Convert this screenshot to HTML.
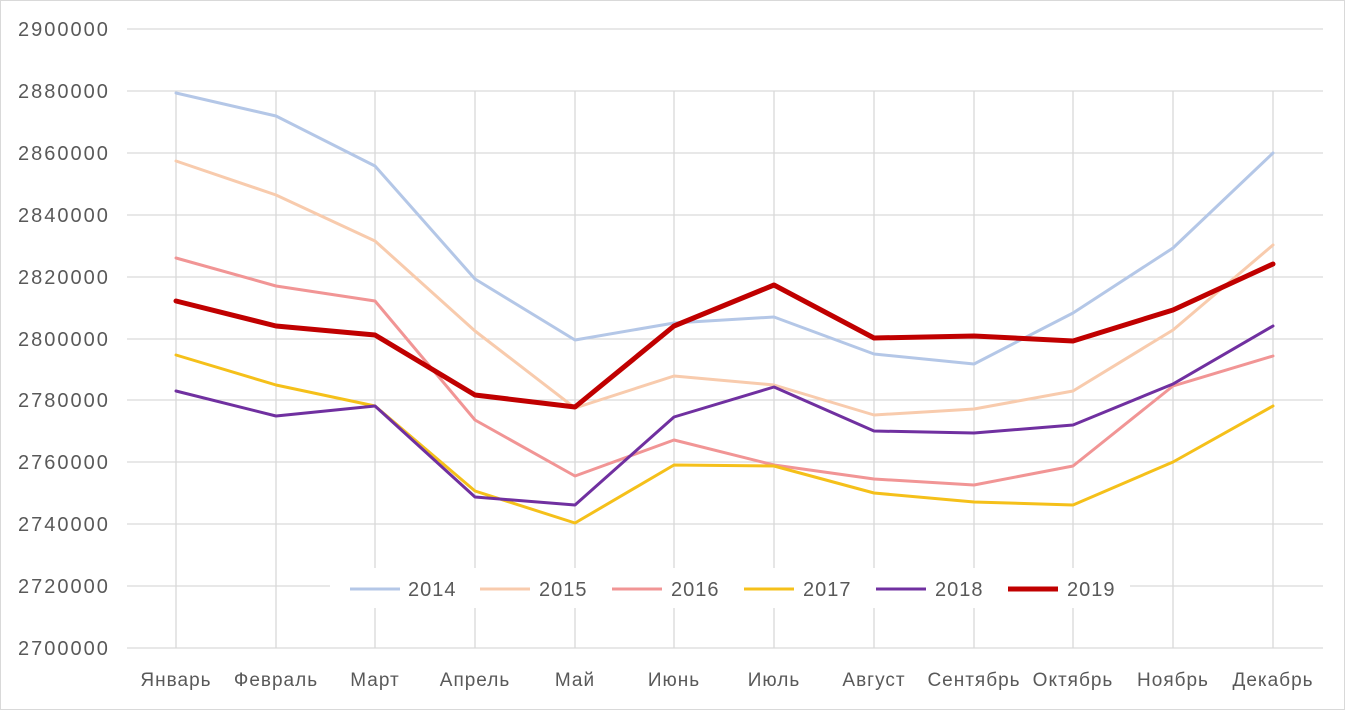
<!DOCTYPE html>
<html><head><meta charset="utf-8"><style>
html,body{margin:0;padding:0;background:#fff;}
svg{display:block;font-family:"Liberation Sans","DejaVu Sans",sans-serif;}
</style></head><body>
<svg width="1345" height="710" viewBox="0 0 1345 710" xmlns="http://www.w3.org/2000/svg">
<rect x="0.5" y="0.5" width="1344" height="709" fill="#fff" stroke="#d9d9d9"/>
<g stroke="#d9d9d9" stroke-width="1.3">
<line x1="127" x2="1323" y1="29" y2="29"/>
<line x1="127" x2="1323" y1="91" y2="91"/>
<line x1="127" x2="1323" y1="153" y2="153"/>
<line x1="127" x2="1323" y1="215" y2="215"/>
<line x1="127" x2="1323" y1="277" y2="277"/>
<line x1="127" x2="1323" y1="339" y2="339"/>
<line x1="127" x2="1323" y1="400" y2="400"/>
<line x1="127" x2="1323" y1="462" y2="462"/>
<line x1="127" x2="1323" y1="524" y2="524"/>
<line x1="127" x2="1323" y1="586" y2="586"/>
<line x1="127" x2="1323" y1="648" y2="648"/>
<line x1="176" x2="176" y1="91" y2="648"/>
<line x1="276" x2="276" y1="91" y2="648"/>
<line x1="375" x2="375" y1="91" y2="648"/>
<line x1="475" x2="475" y1="91" y2="648"/>
<line x1="575" x2="575" y1="91" y2="648"/>
<line x1="674" x2="674" y1="91" y2="648"/>
<line x1="774" x2="774" y1="91" y2="648"/>
<line x1="874" x2="874" y1="91" y2="648"/>
<line x1="974" x2="974" y1="91" y2="648"/>
<line x1="1073" x2="1073" y1="91" y2="648"/>
<line x1="1173" x2="1173" y1="91" y2="648"/>
<line x1="1273" x2="1273" y1="91" y2="648"/>
</g>
<g font-size="20" fill="#595959" letter-spacing="2">
<text x="18" y="36">2900000</text><text x="18" y="98">2880000</text><text x="18" y="160">2860000</text>
<text x="18" y="222">2840000</text><text x="18" y="284">2820000</text><text x="18" y="346">2800000</text>
<text x="18" y="407">2780000</text><text x="18" y="469">2760000</text><text x="18" y="531">2740000</text>
<text x="18" y="593">2720000</text><text x="18" y="655">2700000</text>
</g>
<g font-size="19" fill="#595959" text-anchor="middle" letter-spacing="1">
<text x="176" y="686">Январь</text><text x="276" y="686">Февраль</text><text x="375" y="686">Март</text>
<text x="475" y="686">Апрель</text><text x="575" y="686">Май</text><text x="674" y="686">Июнь</text>
<text x="774" y="686">Июль</text><text x="874" y="686">Август</text><text x="974" y="686">Сентябрь</text>
<text x="1073" y="686">Октябрь</text><text x="1173" y="686">Ноябрь</text><text x="1273" y="686">Декабрь</text>
</g>
<g fill="none" stroke-linejoin="round" stroke-linecap="round">
<polyline stroke="#b4c7e7" stroke-width="3" points="176,93 276,116 375,166 475,279 575,340 674,323 774,317 874,354 974,364 1073,313 1173,248 1273,153"/>
<polyline stroke="#f8cbad" stroke-width="3" points="176,161 276,195 375,241 475,331 575,408 674,376 774,385 874,415 974,409 1073,391 1173,330 1273,245"/>
<polyline stroke="#f19595" stroke-width="3" points="176,258 276,286 375,301 475,420 575,476 674,440 774,465 874,479 974,485 1073,466 1173,386 1273,356"/>
<polyline stroke="#f5c01a" stroke-width="3" points="176,355 276,385 375,406 475,491 575,523 674,465 774,466 874,493 974,502 1073,505 1173,462 1273,406"/>
<polyline stroke="#7030a0" stroke-width="3" points="176,391 276,416 375,406 475,497 575,505 674,417 774,387 874,431 974,433 1073,425 1173,384 1273,326"/>
<polyline stroke="#c00000" stroke-width="5" points="176,301 276,326 375,335 475,395 575,407 674,326 774,285 874,338 974,336 1073,341 1173,310 1273,264"/>
</g>
<rect x="330" y="568" width="800" height="40" fill="#fff"/>
<g font-size="20" fill="#595959" letter-spacing="1">
<line x1="350" x2="400" y1="589" y2="589" stroke="#b4c7e7" stroke-width="3"/><text x="408" y="596">2014</text>
<line x1="480" x2="530" y1="589" y2="589" stroke="#f8cbad" stroke-width="3"/><text x="539" y="596">2015</text>
<line x1="612" x2="662" y1="589" y2="589" stroke="#f19595" stroke-width="3"/><text x="671" y="596">2016</text>
<line x1="744" x2="794" y1="589" y2="589" stroke="#f5c01a" stroke-width="3"/><text x="803" y="596">2017</text>
<line x1="876" x2="926" y1="589" y2="589" stroke="#7030a0" stroke-width="3"/><text x="935" y="596">2018</text>
<line x1="1008" x2="1058" y1="589" y2="589" stroke="#c00000" stroke-width="5"/><text x="1067" y="596">2019</text>
</g>
</svg>
</body></html>
